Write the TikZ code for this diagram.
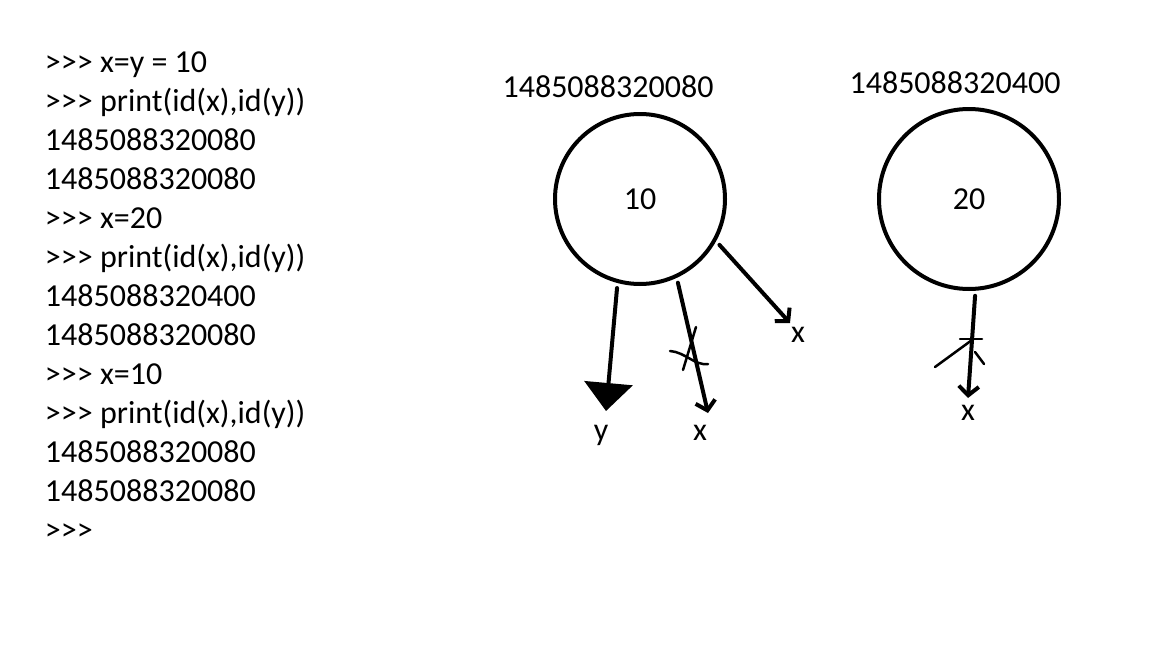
\documentclass[tikz,border=0pt]{standalone}
\usepackage{fontspec}
\setmainfont{Carlito}[Ligatures=TeXOff]
\usetikzlibrary{arrows.meta}

\begin{document}
\begin{tikzpicture}[x=1pt,y=-1pt,->,>={Straight Barb[length=9pt,width=20pt]},
                    line width=4pt,line cap=round,shorten <=5pt,
                    font=\fontsize{32}{39}\selectfont]
  \tikzstyle{obj}=[circle,draw,-,inner sep=0pt]
  \tikzstyle{txt}=[inner sep=0pt,anchor=base]
  \tikzstyle{scratch}=[-,line width=2.5pt,shorten <=0pt]
  \useasboundingbox (0,0) rectangle (1152,648);
  \fill[white] (0,0) rectangle (1152,648);
  % console session
  \foreach \entry [count=\i] in {{>>> x=y = 10},{>>> print(id(x),id(y))},
      {1485088320080},{1485088320080},{>>> x=20},{>>> print(id(x),id(y))},
      {1485088320400},{1485088320080},{>>> x=10},{>>> print(id(x),id(y))},
      {1485088320080},{1485088320080},{>>>}}
    \node[txt,anchor=base west] (line\i) at (43,{72+39*(\i-1)}) {\entry};

  % objects in memory
  \node[obj,minimum size=170pt] (obj10) at (640,199) {10};
  \node[obj,minimum size=180pt] (obj20) at (969,199) {20};
  \node[txt] (addr10) at (608,97) {1485088320080};
  \node[txt] (addr20) at (955,93) {1485088320400};

  % names
  \node[txt] (ny)  at (601,440) {y};
  \node[txt] (nx1) at (700,440) {x};
  \node[txt] (nx2) at (798,342) {x};
  \node[txt] (nx3) at (968,420) {x};
  \coordinate (ytip)  at (606,411);
  \coordinate (x1tip) at (708,413);
  \coordinate (x2tip) at (790,323);
  \coordinate (x3tip) at (968,398);

  \draw[-{Triangle[width=48pt,length=28pt]}] (obj10.255) -- (ytip);
  \draw (obj10.295) -- (x1tip);
  \draw (obj10.331) -- (x2tip);
  \draw (obj20.274) -- (x3tip);

  % crossed out references
  \draw[scratch] (696,327) -- (683,370);
  \draw[scratch] (670,351) .. controls (685,352) and (695,366) .. (708,364);
  \draw[scratch] (935,367) -- (972,340);
  \draw[scratch] (960,339) -- (982,339);
  \draw[scratch] (975,352) -- (984,364);
\end{tikzpicture}
\end{document}
